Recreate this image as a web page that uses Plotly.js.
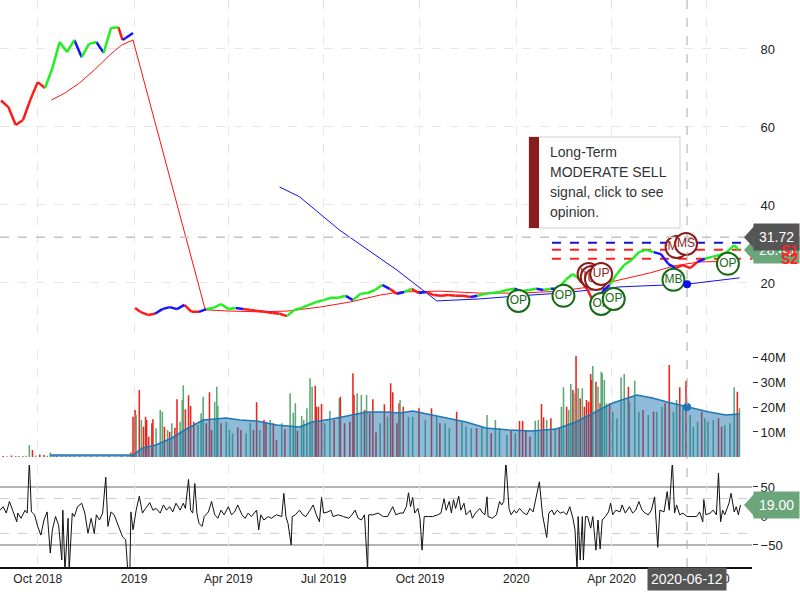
<!DOCTYPE html>
<html>
<head>
<meta charset="utf-8">
<script src="https://cdn.plot.ly/plotly-3.0.1.min.js"></script>
<style>
  body { margin: 0; background: #fff; }
  #chart { width: 800px; height: 600px; }
</style>
</head>
<body>
<div id="chart"></div>
<script>
'use strict';

/* global Plotly */

// Daily price, sampled weekly. Trend code: g = up, b = neutral, r = down.
const priceDates = [
  '2018-08-27', '2018-09-03', '2018-09-10', '2018-09-17', '2018-09-24', '2018-10-01', '2018-10-08',
  '2018-10-15', '2018-10-22', '2018-10-29', '2018-11-05', '2018-11-12', '2018-11-19', '2018-11-26',
  '2018-12-03', '2018-12-10', '2018-12-17', '2018-12-21', '2018-12-24', '2018-12-31', '2019-01-01',
  '2019-01-02', '2019-01-07', '2019-01-14', '2019-01-21', '2019-01-28', '2019-02-04', '2019-02-11',
  '2019-02-18', '2019-02-25', '2019-03-04', '2019-03-11', '2019-03-18', '2019-03-25', '2019-04-01',
  '2019-04-08', '2019-04-15', '2019-04-22', '2019-04-29', '2019-05-06', '2019-05-13', '2019-05-20',
  '2019-05-27', '2019-06-03', '2019-06-10', '2019-06-17', '2019-06-24', '2019-07-01', '2019-07-08',
  '2019-07-15', '2019-07-22', '2019-07-29', '2019-08-05', '2019-08-12', '2019-08-19', '2019-08-26',
  '2019-09-02', '2019-09-09', '2019-09-16', '2019-09-23', '2019-09-30', '2019-10-07', '2019-10-14',
  '2019-10-21', '2019-10-28', '2019-11-04', '2019-11-11', '2019-11-18', '2019-11-25', '2019-12-02',
  '2019-12-09', '2019-12-16', '2019-12-23', '2019-12-30', '2020-01-06', '2020-01-13', '2020-01-20',
  '2020-01-27', '2020-02-03', '2020-02-10', '2020-02-17', '2020-02-24', '2020-03-02', '2020-03-09',
  '2020-03-16', '2020-03-23', '2020-03-30', '2020-04-06', '2020-04-13', '2020-04-20', '2020-04-27',
  '2020-05-04', '2020-05-11', '2020-05-18', '2020-05-25', '2020-06-01', '2020-06-08', '2020-06-15',
  '2020-06-22', '2020-06-29', '2020-07-06', '2020-07-13', '2020-07-20', '2020-07-27', '2020-07-31'
];
const priceValues = [
  66.8, 65.1, 60.5, 61.8, 67.0, 71.5, 70.0,
  75.1, 81.8, 79.2, 82.3, 77.9, 81.3, 81.8,
  79.0, 85.4, 85.6, 82.3, 82.8, 84.1, null,
  13.6, 12.6, 11.8, 12.1, 13.3, 13.8, 13.3,
  14.4, 12.6, 12.6, 13.3, 13.6, 14.6, 13.3,
  13.6, 13.3, 13.1, 12.8, 12.6, 12.3, 12.1,
  11.5, 13.1, 13.6, 14.4, 15.1, 15.6, 16.2,
  16.2, 16.7, 15.6, 17.2, 17.4, 18.2, 19.5,
  18.5, 17.2, 17.7, 18.5, 17.4, 17.7, 16.9,
  16.7, 16.9, 16.7, 16.7, 16.4, 16.7, 17.2,
  17.4, 17.7, 18.2, 18.5, 17.9, 18.2, 18.5,
  18.2, 18.5, 18.5, 20.8, 22.3, 20.8, 18.2,
  14.4, 17.7, 19.5, 22.3, 24.6, 25.9, 27.9,
  28.5, 27.9, 27.4, 24.9, 23.8, 24.6, 23.8,
  25.4, 26.2, 26.7, 27.2, 27.9, 29.7, 28.5
];
const priceTrend = [
  'r', 'r', 'r', 'r', 'r', 'r', 'r',
  'g', 'g', 'g', 'g', 'b', 'g', 'g',
  'b', 'g', 'g', 'r', 'b', 'b', '',
  'r', 'r', 'r', 'r', 'b', 'b', 'b',
  'b', 'r', 'r', 'b', 'g', 'g', 'g',
  'g', 'b', 'r', 'r', 'r', 'r', 'r',
  'r', 'g', 'g', 'g', 'g', 'g', 'g',
  'g', 'g', 'b', 'g', 'g', 'g', 'g',
  'b', 'r', 'b', 'g', 'r', 'b', 'r',
  'r', 'r', 'r', 'r', 'r', 'b', 'g',
  'g', 'g', 'g', 'g', 'b', 'g', 'g',
  'b', 'g', 'b', 'g', 'g', 'g', 'r',
  'r', 'b', 'b', 'g', 'g', 'g', 'g',
  'g', 'g', 'b', 'b', 'b', 'r', 'r',
  'r', 'b', 'g', 'g', 'g', 'g', 'g'
];

// Short moving average (red) and long moving average (blue)
const shortMaDates = [
  '2018-10-14', '2018-10-27', '2018-11-10', '2018-11-24', '2018-12-09', '2018-12-20', '2018-12-31',
  '2019-03-10', '2019-04-02', '2019-05-01', '2019-05-28', '2019-06-27', '2019-07-26', '2019-08-24',
  '2019-09-12', '2019-10-20', '2019-11-27', '2020-01-04', '2020-02-12', '2020-03-11', '2020-04-09',
  '2020-05-08', '2020-05-31', '2020-06-24', '2020-08-01'
];
const shortMaValues = [
  66.9, 68.7, 71.3, 74.6, 78.5, 81.0, 82.3,
  13.1, 12.8, 12.6, 12.8, 13.8, 15.1, 16.9,
  17.7, 17.9, 17.4, 17.4, 17.9, 19.0, 20.8,
  22.6, 24.4, 25.4, 25.6
];
const longMaDates = [
  '2019-05-20', '2019-06-08', '2019-07-16', '2019-09-09', '2019-10-17', '2019-11-27',
  '2020-01-04', '2020-02-12', '2020-04-09', '2020-06-12', '2020-08-01'
];
const longMaValues = [44.6, 42.1, 33.6, 23.3, 15.4, 15.9, 16.7, 17.4, 19.0, 19.7, 21.3];

// Support / resistance levels
const levelNames = ['R1', 'S1', 'S2'];
const levelValues = [30.3, 28.5, 26.2];
const levelFrom = '2020-02-04';
const levelTo = '2020-08-13';

// Signals on the price panel
const signalDates = [
  '2020-01-03', '2020-02-15', '2020-03-10', '2020-03-13', '2020-03-17', '2020-03-22',
  '2020-03-22', '2020-04-03', '2020-05-30', '2020-06-02', '2020-06-11', '2020-07-21'
];
const signalPrices = [15.4, 16.7, 22.3, 21.5, 21.0, 22.3, 14.6, 15.9, 20.8, 29.2, 30.0, 24.9];
const signalLabels = ['OP', 'OP', 'UP', 'UP', 'UP', 'UP', 'OP', 'OP', 'MB', 'MS', 'MS', 'OP'];

// Volume, millions (g = up day, r = down day)
const volumeDates = [
  '2018-08-29', '2018-09-02', '2018-09-06', '2018-09-10', '2018-09-13', '2018-09-17', '2018-09-20',
  '2018-09-23', '2018-09-26', '2018-09-29', '2018-10-03', '2018-10-07', '2018-10-10', '2018-10-13',
  '2018-10-16', '2018-10-19', '2018-10-24', '2018-10-28', '2018-11-01', '2018-11-05', '2018-11-10',
  '2018-11-16', '2018-11-21', '2018-11-27', '2018-12-03', '2018-12-08', '2018-12-14', '2018-12-20',
  '2018-12-26', '2018-12-29', '2018-12-31', '2019-01-02', '2019-01-03', '2019-01-06', '2019-01-08',
  '2019-01-10', '2019-01-12', '2019-01-13', '2019-01-15', '2019-01-18', '2019-01-19', '2019-01-22',
  '2019-01-26', '2019-01-28', '2019-01-30', '2019-02-02', '2019-02-04', '2019-02-06', '2019-02-09',
  '2019-02-11', '2019-02-14', '2019-02-16', '2019-02-17', '2019-02-19', '2019-02-22', '2019-02-24',
  '2019-02-27', '2019-03-03', '2019-03-06', '2019-03-08', '2019-03-11', '2019-03-14', '2019-03-16',
  '2019-03-19', '2019-03-21', '2019-03-22', '2019-03-25', '2019-03-30', '2019-04-02', '2019-04-05',
  '2019-04-10', '2019-04-13', '2019-04-18', '2019-04-22', '2019-04-25', '2019-04-28', '2019-05-01',
  '2019-05-05', '2019-05-07', '2019-05-11', '2019-05-14', '2019-05-17', '2019-05-22', '2019-05-25',
  '2019-05-30', '2019-06-02', '2019-06-04', '2019-06-06', '2019-06-10', '2019-06-12', '2019-06-15',
  '2019-06-18', '2019-06-20', '2019-06-23', '2019-06-24', '2019-06-26', '2019-06-29', '2019-07-02',
  '2019-07-07', '2019-07-11', '2019-07-16', '2019-07-17', '2019-07-21', '2019-07-26', '2019-07-29',
  '2019-07-30', '2019-08-02', '2019-08-06', '2019-08-09', '2019-08-11', '2019-08-14', '2019-08-17',
  '2019-08-20', '2019-08-24', '2019-08-28', '2019-08-31', '2019-09-03', '2019-09-05', '2019-09-09',
  '2019-09-11', '2019-09-12', '2019-09-15', '2019-09-20', '2019-09-24', '2019-09-30', '2019-10-06',
  '2019-10-12', '2019-10-17', '2019-10-20', '2019-10-25', '2019-10-29', '2019-11-05', '2019-11-10',
  '2019-11-14', '2019-11-19', '2019-11-24', '2019-11-29', '2019-12-04', '2019-12-08', '2019-12-12',
  '2019-12-16', '2019-12-23', '2019-12-27', '2019-12-31', '2020-01-04', '2020-01-07', '2020-01-10',
  '2020-01-14', '2020-01-19', '2020-01-22', '2020-01-25', '2020-01-27', '2020-01-30', '2020-02-03',
  '2020-02-07', '2020-02-11', '2020-02-13', '2020-02-15', '2020-02-18', '2020-02-20', '2020-02-22',
  '2020-02-24', '2020-02-25', '2020-02-27', '2020-02-29', '2020-03-02', '2020-03-04', '2020-03-06',
  '2020-03-08', '2020-03-10', '2020-03-12', '2020-03-13', '2020-03-14', '2020-03-17', '2020-03-19',
  '2020-03-21', '2020-03-22', '2020-03-23', '2020-03-25', '2020-03-27', '2020-03-30', '2020-04-02',
  '2020-04-06', '2020-04-10', '2020-04-13', '2020-04-17', '2020-04-18', '2020-04-23', '2020-04-27',
  '2020-05-01', '2020-05-06', '2020-05-11', '2020-05-14', '2020-05-19', '2020-05-22', '2020-05-26',
  '2020-05-30', '2020-06-02', '2020-06-05', '2020-06-08', '2020-06-11', '2020-06-15', '2020-06-18',
  '2020-06-22', '2020-06-26', '2020-06-29', '2020-07-02', '2020-07-07', '2020-07-12', '2020-07-15',
  '2020-07-18', '2020-07-23', '2020-07-27', '2020-07-30', '2020-08-01'
];
const volumeValues = [
  0.4, 0.3, 0.6, 0.3, 0.4, 0.3, 0.5,
  4.8, 2.8, 0.6, 1.0, 0.8, 0.5, 1.8,
  0.7, 0.5, 0.6, 0.4, 0.3, 0.4, 0.3,
  0.3, 0.3, 0.3, 0.3, 0.4, 0.3, 0.4,
  0.3, 1.8, 16.1, 18.8, 16.8, 26.8, 14.8,
  12.1, 16.1, 14.8, 8.1, 13.5, 15.1, 11.5,
  18.8, 18.1, 12.1, 10.8, 10.1, 13.5, 11.7,
  23.1, 14.1, 22.8, 28.7, 19.1, 24.7, 20.4,
  14.1, 12.8, 17.5, 24.1, 13.5, 25.9, 10.8,
  22.1, 28.1, 20.5, 13.5, 14.1, 10.8, 9.5,
  11.9, 10.8, 9.5, 13.5, 10.8, 21.9, 10.8,
  14.8, 14.1, 14.8, 13.5, 6.8, 13.5, 11.1,
  25.5, 17.7, 21.5, 10.5, 16.4, 14.8, 19.5,
  31.5, 28.1, 28.5, 20.1, 20.1, 21.2, 13.5,
  18.4, 14.8, 23.5, 24.1, 13.5, 14.1, 33.5,
  24.8, 25.5, 24.8, 18.8, 24.8, 17.5, 23.1,
  9.8, 13.5, 21.1, 16.1, 29.5, 25.9, 13.5,
  21.5, 22.8, 20.1, 16.1, 16.1, 19.5, 14.8,
  19.5, 16.1, 13.5, 13.5, 11.5, 18.1, 14.1,
  12.1, 11.5, 11.5, 12.1, 16.8, 9.5, 14.8,
  11.5, 8.8, 10.8, 9.5, 14.4, 14.4, 10.8,
  8.1, 14.5, 14.8, 21.2, 15.9, 14.8, 15.5,
  11.5, 11.5, 20.1, 27.9, 20.1, 18.8, 29.2,
  26.8, 25.5, 40.4, 27.5, 23.5, 27.5, 20.1,
  22.8, 22.1, 33.2, 30.8, 36.4, 30.1, 28.1,
  21.5, 34.1, 33.5, 30.8, 21.5, 21.5, 18.1,
  15.5, 31.9, 33.2, 28.1, 22.1, 30.5, 18.1,
  18.8, 16.8, 18.1, 18.1, 20.1, 21.5, 36.8,
  18.1, 22.8, 27.9, 20.1, 30.5, 16.8, 12.1,
  14.1, 18.1, 15.5, 14.1, 14.8, 15.5, 12.1,
  12.8, 13.5, 27.9, 26.1, 19.5
];
const volumeDirection = [
  'r', 'g', 'r', 'r', 'g', 'r', 'g',
  'g', 'r', 'g', 'r', 'r', 'g', 'g',
  'g', 'r', 'g', 'g', 'r', 'g', 'r',
  'g', 'r', 'r', 'g', 'r', 'g', 'r',
  'g', 'r', 'r', 'r', 'g', 'r', 'g',
  'r', 'r', 'r', 'r', 'r', 'r', 'g',
  'g', 'g', 'r', 'g', 'r', 'g', 'r',
  'r', 'g', 'g', 'g', 'r', 'r', 'r',
  'r', 'g', 'g', 'g', 'r', 'r', 'r',
  'g', 'g', 'g', 'r', 'g', 'g', 'g',
  'r', 'r', 'g', 'g', 'r', 'r', 'g',
  'r', 'r', 'g', 'r', 'r', 'g', 'r',
  'g', 'g', 'g', 'r', 'g', 'g', 'g',
  'g', 'g', 'r', 'r', 'r', 'r', 'g',
  'g', 'r', 'g', 'r', 'r', 'r', 'r',
  'r', 'g', 'g', 'r', 'g', 'r', 'r',
  'r', 'g', 'r', 'g', 'r', 'r', 'r',
  'r', 'g', 'r', 'g', 'g', 'r', 'g',
  'r', 'g', 'r', 'g', 'g', 'r', 'g',
  'g', 'g', 'r', 'g', 'g', 'r', 'g',
  'g', 'g', 'r', 'g', 'r', 'r', 'r',
  'r', 'g', 'g', 'r', 'r', 'g', 'r',
  'g', 'r', 'g', 'g', 'r', 'g', 'g',
  'r', 'g', 'r', 'g', 'r', 'g', 'r',
  'r', 'r', 'r', 'r', 'g', 'r', 'g',
  'r', 'g', 'g', 'g', 'g', 'r', 'g',
  'g', 'g', 'g', 'r', 'g', 'g', 'g',
  'r', 'g', 'r', 'g', 'g', 'r', 'r',
  'g', 'g', 'r', 'g', 'r', 'g', 'g',
  'g', 'r', 'g', 'g', 'g', 'r', 'r',
  'g', 'g', 'g', 'r', 'g'
];
const volumeMaDates = [
  '2018-10-13', '2018-12-28', '2018-12-31', '2019-01-09', '2019-01-22', '2019-02-06', '2019-02-20',
  '2019-03-08', '2019-03-30', '2019-04-12', '2019-04-28', '2019-05-17', '2019-06-08', '2019-06-20',
  '2019-07-09', '2019-07-28', '2019-08-11', '2019-08-30', '2019-09-12', '2019-09-24', '2019-10-13',
  '2019-11-14', '2019-12-03', '2019-12-25', '2020-01-16', '2020-02-08', '2020-02-27', '2020-03-21',
  '2020-04-02', '2020-04-25', '2020-05-10', '2020-05-24', '2020-06-12', '2020-07-03', '2020-07-19',
  '2020-08-01'
];
const volumeMaValues = [
  0.8, 0.8, 0.8, 3.6, 4.8, 7.6, 11.2,
  14.8, 15.6, 14.8, 14.4, 12.8, 12.0, 14.0,
  15.2, 16.8, 18.0, 18.0, 17.6, 18.4, 16.8,
  14.0, 11.6, 10.8, 10.4, 11.2, 14.0, 18.8,
  21.6, 24.8, 23.6, 22.0, 20.0, 18.0, 16.8,
  17.2
];
const volumeTicks = [10, 20, 30, 40];
const volumeTickLabels = ['10M', '20M', '30M', '40M'];

// Momentum oscillator
const oscDates = [
  '2018-08-26', '2018-08-29', '2018-09-01', '2018-09-04', '2018-09-07', '2018-09-11', '2018-09-12',
  '2018-09-15', '2018-09-19', '2018-09-21', '2018-09-23', '2018-09-25', '2018-09-28', '2018-10-01',
  '2018-10-04', '2018-10-07', '2018-10-10', '2018-10-13', '2018-10-15', '2018-10-18', '2018-10-21',
  '2018-10-24', '2018-10-25', '2018-10-27', '2018-10-30', '2018-10-31', '2018-11-03', '2018-11-05',
  '2018-11-08', '2018-11-12', '2018-11-15', '2018-11-18', '2018-11-21', '2018-11-24', '2018-11-26',
  '2018-11-29', '2018-12-02', '2018-12-05', '2018-12-07', '2018-12-10', '2018-12-13', '2018-12-16',
  '2018-12-21', '2018-12-24', '2018-12-26', '2018-12-28', '2018-12-29', '2018-12-31', '2019-01-03',
  '2019-01-06', '2019-01-09', '2019-01-12', '2019-01-16', '2019-01-19', '2019-01-22', '2019-01-26',
  '2019-01-29', '2019-02-01', '2019-02-04', '2019-02-07', '2019-02-10', '2019-02-14', '2019-02-17',
  '2019-02-19', '2019-02-22', '2019-02-24', '2019-02-26', '2019-02-28', '2019-03-02', '2019-03-04',
  '2019-03-07', '2019-03-09', '2019-03-13', '2019-03-16', '2019-03-19', '2019-03-22', '2019-03-25',
  '2019-03-28', '2019-04-01', '2019-04-04', '2019-04-07', '2019-04-10', '2019-04-14', '2019-04-17',
  '2019-04-20', '2019-04-23', '2019-04-26', '2019-04-28', '2019-04-30', '2019-05-02', '2019-05-05',
  '2019-05-09', '2019-05-12', '2019-05-17', '2019-05-22', '2019-05-24', '2019-05-26', '2019-05-28',
  '2019-05-31', '2019-06-01', '2019-06-04', '2019-06-08', '2019-06-11', '2019-06-14', '2019-06-18',
  '2019-06-21', '2019-06-24', '2019-06-27', '2019-06-29', '2019-07-01', '2019-07-05', '2019-07-08',
  '2019-07-10', '2019-07-15', '2019-07-20', '2019-07-25', '2019-07-28', '2019-07-31', '2019-08-03',
  '2019-08-06', '2019-08-09', '2019-08-12', '2019-08-13', '2019-08-17', '2019-08-22', '2019-08-27',
  '2019-08-31', '2019-09-05', '2019-09-08', '2019-09-12', '2019-09-15', '2019-09-18', '2019-09-20',
  '2019-09-22', '2019-09-24', '2019-09-26', '2019-09-29', '2019-10-01', '2019-10-03', '2019-10-05',
  '2019-10-09', '2019-10-13', '2019-10-18', '2019-10-21', '2019-10-24', '2019-10-26', '2019-10-29',
  '2019-10-31', '2019-11-02', '2019-11-04', '2019-11-07', '2019-11-09', '2019-11-12', '2019-11-14',
  '2019-11-18', '2019-11-20', '2019-11-23', '2019-11-27', '2019-11-30', '2019-12-02', '2019-12-04',
  '2019-12-05', '2019-12-09', '2019-12-13', '2019-12-16', '2019-12-18', '2019-12-20', '2019-12-22',
  '2019-12-25', '2019-12-27', '2019-12-30', '2020-01-01', '2020-01-04', '2020-01-08', '2020-01-11',
  '2020-01-14', '2020-01-17', '2020-01-20', '2020-01-23', '2020-01-26', '2020-01-30', '2020-02-01',
  '2020-02-04', '2020-02-06', '2020-02-09', '2020-02-12', '2020-02-15', '2020-02-18', '2020-02-21',
  '2020-02-24', '2020-02-26', '2020-02-28', '2020-02-29', '2020-03-02', '2020-03-04', '2020-03-05',
  '2020-03-07', '2020-03-09', '2020-03-12', '2020-03-14', '2020-03-17', '2020-03-19', '2020-03-21',
  '2020-03-23', '2020-03-26', '2020-03-29', '2020-03-31', '2020-04-02', '2020-04-05', '2020-04-09',
  '2020-04-11', '2020-04-14', '2020-04-18', '2020-04-21', '2020-04-24', '2020-04-27', '2020-04-30',
  '2020-05-03', '2020-05-06', '2020-05-09', '2020-05-12', '2020-05-15', '2020-05-17', '2020-05-21',
  '2020-05-24', '2020-05-26', '2020-05-29', '2020-05-31', '2020-06-02', '2020-06-05', '2020-06-08',
  '2020-06-12', '2020-06-17', '2020-06-21', '2020-06-24', '2020-06-27', '2020-06-28', '2020-06-30',
  '2020-07-04', '2020-07-07', '2020-07-10', '2020-07-12', '2020-07-14', '2020-07-16', '2020-07-18',
  '2020-07-22', '2020-07-24', '2020-07-27', '2020-07-29', '2020-07-31', '2020-08-02'
];
const oscValues = [
  10, 16, 5, 25, 10, -10, 5,
  -4, 10, 5, 95, 7, 2, -18,
  -33, -7, 7, -64, -24, -1, -16,
  -76, 10, -95, -4, -95, 5, -1,
  16, 22, 5, -30, -4, -30, 2,
  -7, 5, 67, -18, 7, 2, -13,
  -36, -41, -95, -95, 7, -24, 10,
  34, 5, 13, 23, 10, 13, 5,
  19, 10, 16, 7, 22, 10, 22,
  13, 63, 10, 5, 56, 5, -13,
  -18, -1, 7, 25, 2, -4, 10,
  2, 16, 2, 7, 19, 2, -4,
  5, -1, 5, 10, -24, 2, -7,
  -1, -4, 2, -1, 39, -1, -13,
  -50, -1, 2, 10, 2, -1, 10,
  19, 2, -10, 32, 5, 7, 10,
  -1, 2, -1, -4, 2, 10, -4,
  -7, 2, -95, 2, 2, 5, -1,
  -1, 16, 2, 5, 5, 16, 40,
  16, 32, 5, 13, -4, -59, -1,
  -1, -1, 2, 5, 30, 10, 25,
  5, 28, 13, 34, 10, 22, 2,
  10, -4, 5, 13, 5, 2, 33,
  -1, -4, 2, 25, 19, 25, 95,
  13, 2, 10, 5, 13, 5, 2,
  13, 7, 33, 59, 2, -37, 5,
  10, 2, 10, 5, 7, 2, 16,
  -4, -24, -95, -1, -76, -1, -76,
  -1, -1, -21, -1, -59, -7, -57,
  -7, -1, 7, 22, 2, 10, 7,
  19, 5, 16, 5, 10, 25, 10,
  5, 2, 10, 33, -54, 10, 7,
  42, 10, 95, 5, 19, 2, 5,
  -1, -1, -1, 7, -10, 28, 2,
  5, 10, 2, 74, -10, 10, 2,
  22, 39, 7, 16, 2, 19
];
const oscLevels = [50, -50];
const oscBands = [30, -30];

const tickDates = ['2018-10-01', '2019-01-01', '2019-04-01', '2019-07-01', '2019-10-01', '2020-01-01', '2020-04-01', '2020-07-01'];
const tickLabels = ['Oct 2018', '2019', 'Apr 2019', 'Jul 2019', 'Oct 2019', '2020', 'Apr 2020', 'Jul 2020'];

// Crosshair and last-value labels
const crosshairDate = '2020-06-12';
const crosshairPrice = 31.72;
const lastClose = 28.45;
const lastOsc = 19.0;
const opinionLines = ['Long-Term', 'MODERATE SELL', 'signal, click to see', 'opinion.'];

const FONT = 'Liberation Sans, Arial, sans-serif';
const TREND_COLORS = {g: '#22ee22', b: '#1414ff', r: '#ff1a1a'};
const VOLUME_COLORS = {g: '#5ea878', r: '#e8261e'};
const SIGNAL_COLORS = {OP: '#176b17', MB: '#176b17', UP: '#8b1c1c', MS: '#8b1c1c'};
const LEVEL_COLORS = {R1: '#1414cc', S1: '#ff2020', S2: '#ff2020'};

const PRICE_RANGE = [6.05, 92.56];
const VOLUME_RANGE = [0, 42.8];
const OSC_RANGE = [-88, 88];
const PRICE_DOMAIN = [0.405, 1];
const VOLUME_DOMAIN = [0.194, 0.3827];
const OSC_DOMAIN = [0, 0.18];
const PLOT_W = 752;
const PLOT_H = 567;

function unitsPerPixel(range, domain) {
  return (range[1] - range[0]) / ((domain[1] - domain[0]) * PLOT_H);
}

/**
 * Builds one line trace per trend colour; each segment takes the colour
 * of the bar it ends on.
 */
function trendTrace(code) {
  const xs = [];
  const ys = [];
  for (let i = 1; i < priceDates.length; i++) {
    if (priceTrend[i] !== code || priceValues[i - 1] == null || priceValues[i] == null) {
      continue;
    }
    xs.push(priceDates[i - 1], priceDates[i], null);
    ys.push(priceValues[i - 1], priceValues[i], null);
  }
  return {
    x: xs, y: ys, type: 'scatter', mode: 'lines', yaxis: 'y',
    line: {color: TREND_COLORS[code], width: 2.5}, connectgaps: false
  };
}

function buildTraces() {
  const traces = [];

  traces.push({
    x: longMaDates, y: longMaValues, type: 'scatter', mode: 'lines', yaxis: 'y',
    line: {color: '#1010ee', width: 1}
  });
  traces.push({
    x: shortMaDates, y: shortMaValues, type: 'scatter', mode: 'lines', yaxis: 'y',
    line: {color: '#ff1010', width: 1}
  });

  levelNames.forEach((name, i) => {
    traces.push({
      x: [levelFrom, levelTo], y: [levelValues[i], levelValues[i]],
      type: 'scatter', mode: 'lines', yaxis: 'y',
      line: {color: LEVEL_COLORS[name], width: 2, dash: 'dash'}
    });
  });

  ['r', 'b', 'g'].forEach(code => traces.push(trendTrace(code)));

  signalLabels.forEach((label, i) => {
    traces.push({
      x: [signalDates[i]], y: [signalPrices[i]], text: [label],
      type: 'scatter', mode: 'markers+text', yaxis: 'y', cliponaxis: false,
      textposition: 'middle center',
      textfont: {family: FONT, size: 12, color: SIGNAL_COLORS[label]},
      marker: {size: 22, color: '#fff', line: {color: SIGNAL_COLORS[label], width: 2}}
    });
  });

  const longMaAtCross = longMaValues[longMaDates.indexOf(crosshairDate)];
  traces.push({
    x: [crosshairDate], y: [longMaAtCross], type: 'scatter', mode: 'markers', yaxis: 'y',
    marker: {size: 8, color: '#1010ee'}
  });

  traces.push({
    x: volumeDates, y: volumeValues, type: 'bar', yaxis: 'y2',
    width: 1.5 * 86400000,
    marker: {color: volumeDirection.map(d => VOLUME_COLORS[d]), line: {width: 0}}
  });
  traces.push({
    x: volumeMaDates, y: volumeMaValues, type: 'scatter', mode: 'lines', yaxis: 'y2',
    fill: 'tozeroy', fillcolor: 'rgba(31,119,180,0.5)',
    line: {color: '#1f77b4', width: 1.5}
  });
  const volumeMaAtCross = volumeMaValues[volumeMaDates.indexOf(crosshairDate)];
  traces.push({
    x: [crosshairDate], y: [volumeMaAtCross], type: 'scatter', mode: 'markers', yaxis: 'y2',
    marker: {size: 8, color: '#1f77b4'}
  });

  traces.push({
    x: oscDates, y: oscValues, type: 'scatter', mode: 'lines', yaxis: 'y3',
    line: {color: '#111', width: 1}
  });

  return traces;
}

function valueLabel(yref, value, text, color, range, domain) {
  const half = 11 * unitsPerPixel(range, domain);
  const shape = {
    type: 'path', xref: 'paper', yref: yref, layer: 'above',
    path: `M ${744 / PLOT_W},${value} L ${754 / PLOT_W},${value + half} L ${754 / PLOT_W},${value - half} Z`,
    fillcolor: color, line: {width: 0}
  };
  const annotation = {
    xref: 'paper', yref: yref, x: 753 / PLOT_W, y: value, xanchor: 'left', yanchor: 'middle',
    text: text, showarrow: false, bgcolor: color, borderpad: 5,
    font: {family: FONT, size: 14, color: '#fff'}
  };
  return {shape, annotation};
}

function buildLayout() {
  const shapes = [];
  const annotations = [];

  oscLevels.forEach(v => shapes.push({
    type: 'line', xref: 'paper', yref: 'y3', x0: 0, x1: 1, y0: v, y1: v, layer: 'below',
    line: {color: '#b4b4b4', width: 2}
  }));
  oscBands.forEach(v => shapes.push({
    type: 'line', xref: 'paper', yref: 'y3', x0: 0, x1: 1, y0: v, y1: v, layer: 'below',
    line: {color: '#cccccc', width: 1, dash: 'dash'}
  }));

  // crosshair
  shapes.push({
    type: 'line', xref: 'x', yref: 'paper', x0: crosshairDate, x1: crosshairDate, y0: 0, y1: 1,
    layer: 'above', line: {color: '#aaaaaa', width: 1, dash: 'dash'}
  });
  shapes.push({
    type: 'line', xref: 'paper', yref: 'y', x0: 0, x1: 1, y0: crosshairPrice, y1: crosshairPrice,
    layer: 'above', line: {color: '#c4c4c4', width: 1.5, dash: 'dash'}
  });

  // opinion box
  const boxTop = 137;
  const boxBottom = 228;
  shapes.push({
    type: 'rect', xref: 'paper', yref: 'paper', layer: 'above',
    x0: 529 / PLOT_W, x1: 680 / PLOT_W, y0: (PLOT_H - boxBottom) / PLOT_H, y1: (PLOT_H - boxTop) / PLOT_H,
    fillcolor: 'rgba(255,255,255,0.95)', line: {color: '#cfcfcf', width: 1}
  });
  shapes.push({
    type: 'rect', xref: 'paper', yref: 'paper', layer: 'above',
    x0: 529 / PLOT_W, x1: 539 / PLOT_W, y0: (PLOT_H - boxBottom) / PLOT_H, y1: (PLOT_H - boxTop) / PLOT_H,
    fillcolor: '#8b1c1c', line: {width: 0}
  });
  opinionLines.forEach((line, i) => annotations.push({
    xref: 'paper', yref: 'paper', x: 548 / PLOT_W, y: (PLOT_H - (152 + i * 20)) / PLOT_H,
    xanchor: 'left', yanchor: 'middle', showarrow: false, text: line,
    font: {family: FONT, size: 14, color: '#333'}
  }));

  const closeLabel = valueLabel('y', lastClose, lastClose.toFixed(2), '#6aa67a', PRICE_RANGE, PRICE_DOMAIN);
  const crossLabel = valueLabel('y', crosshairPrice, crosshairPrice.toFixed(2), '#555555', PRICE_RANGE, PRICE_DOMAIN);
  const oscLabel = valueLabel('y3', lastOsc, lastOsc.toFixed(2), '#6aa67a', OSC_RANGE, OSC_DOMAIN);
  [closeLabel, crossLabel, oscLabel].forEach(l => {
    shapes.push(l.shape);
    annotations.push(l.annotation);
  });

  levelNames.forEach((name, i) => {
    if (name === 'R1') {
      return;
    }
    annotations.push({
      xref: 'paper', yref: 'y', x: 800 / PLOT_W, y: levelValues[i], xanchor: 'right', yanchor: 'middle',
      showarrow: false, text: '<b>' + name + '</b>',
      font: {family: FONT, size: 14, color: LEVEL_COLORS[name]}
    });
  });

  annotations.push({
    xref: 'x', yref: 'paper', x: crosshairDate, y: 0, xanchor: 'center', yanchor: 'top',
    showarrow: false, text: crosshairDate, bgcolor: '#555555', borderpad: 3,
    font: {family: FONT, size: 14, color: '#fff'}
  });

  const yCommon = {
    side: 'right', anchor: 'x', zeroline: false, fixedrange: true,
    ticks: 'outside', ticklen: 5, tickcolor: '#333',
    tickfont: {family: FONT, size: 13, color: '#222'}
  };

  return {
    width: 800,
    height: 600,
    margin: {l: 0, r: 48, t: 0, b: 33},
    paper_bgcolor: '#fff',
    plot_bgcolor: '#fff',
    showlegend: false,
    hovermode: false,
    font: {family: FONT, size: 13, color: '#222'},
    xaxis: {
      type: 'date',
      range: ['2018-08-26', '2020-08-13'],
      anchor: 'y3',
      tickvals: tickDates,
      ticktext: tickLabels,
      showgrid: true,
      gridcolor: '#e6e6e6',
      griddash: 'dash',
      showline: true,
      linecolor: '#111',
      linewidth: 1.5,
      ticks: '',
      tickfont: {family: FONT, size: 12, color: '#222'},
      fixedrange: true
    },
    yaxis: Object.assign({}, yCommon, {
      domain: PRICE_DOMAIN, range: PRICE_RANGE, tickvals: [20, 40, 60, 80],
      tickcolor: 'rgba(0,0,0,0)', showgrid: true, gridcolor: '#e6e6e6', griddash: 'dash'
    }),
    yaxis2: Object.assign({}, yCommon, {
      domain: VOLUME_DOMAIN, range: VOLUME_RANGE, tickmode: 'array',
      tickvals: volumeTicks, ticktext: volumeTickLabels, showgrid: false
    }),
    yaxis3: Object.assign({}, yCommon, {
      domain: OSC_DOMAIN, range: OSC_RANGE, tickvals: [-50, 0, 50], showgrid: false
    }),
    shapes: shapes,
    annotations: annotations
  };
}

Plotly.newPlot('chart', buildTraces(), buildLayout(), {staticPlot: true, displayModeBar: false});
</script>
</body>
</html>
